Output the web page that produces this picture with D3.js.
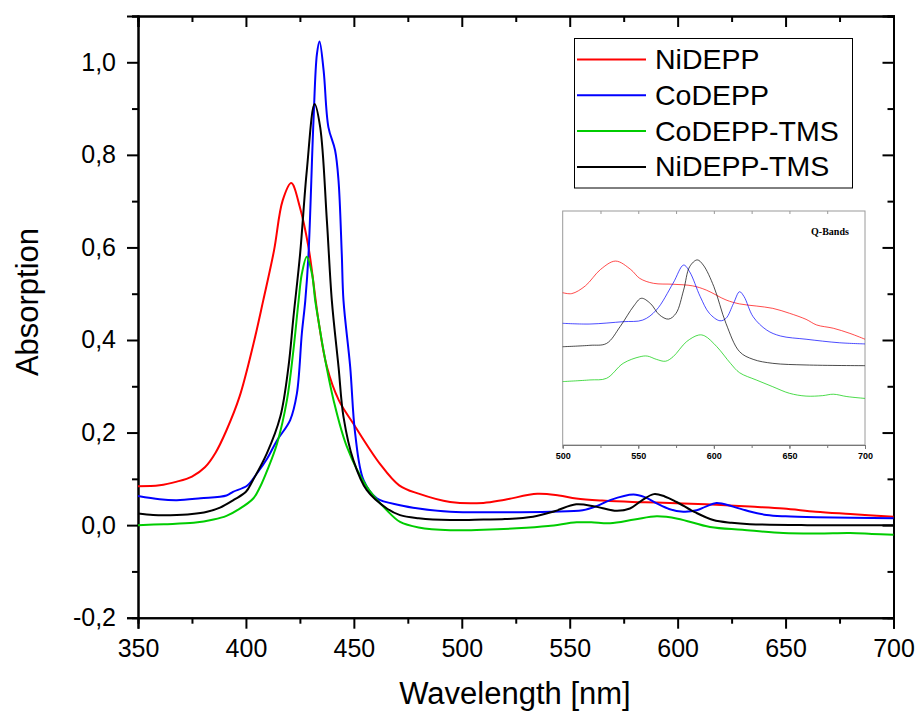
<!DOCTYPE html>
<html>
<head>
<meta charset="utf-8">
<script src="https://cdn.jsdelivr.net/npm/d3@7"></script>
<style>
  body { margin: 0; background: #fff; }
  svg { display: block; font-family: "Liberation Sans", Arial, sans-serif; }
</style>
</head>
<body>
<svg id="chart" width="919" height="711"></svg>
<script>
// series names / colours
const seriesNames = ["NiDEPP", "CoDEPP", "CoDEPP-TMS", "NiDEPP-TMS"];
const seriesColors = ["#ff0000", "#0000ff", "#00cc00", "#000000"];

// main spectra: [wavelength nm, absorption]
const niDEPP = [
  [350, 0.084], [360, 0.086], [368, 0.094], [375, 0.105], [381, 0.125], [386, 0.157],
  [391, 0.205], [397, 0.277], [403.5, 0.392], [408, 0.485], [413, 0.593], [417, 0.701],
  [421, 0.739], [425, 0.687], [429, 0.60], [433.6, 0.442], [437.5, 0.342], [443, 0.27],
  [449.8, 0.219], [462, 0.133], [471, 0.086], [480, 0.068], [494.6, 0.050], [510, 0.048],
  [520, 0.055], [535, 0.0676], [545, 0.064], [553, 0.0575], [565, 0.053], [579, 0.050],
  [590, 0.049], [602.6, 0.047], [618, 0.044], [633.5, 0.040], [649, 0.036], [664, 0.029],
  [680, 0.024], [700, 0.018]
];
const coDEPP = [
  [350, 0.063], [360, 0.056], [368, 0.054], [379, 0.058], [391, 0.064], [394, 0.072],
  [400.5, 0.085], [405, 0.111], [410, 0.145], [414.4, 0.183], [420.5, 0.227], [423.6, 0.284],
  [425.9, 0.414], [427.5, 0.485], [429, 0.586], [431.3, 0.874], [432.9, 1.018], [434.1, 1.045],
  [436, 0.982], [438.2, 0.86], [441.3, 0.81], [442.9, 0.744], [444.4, 0.586], [445.2, 0.485],
  [448.3, 0.342], [450.6, 0.198], [454.5, 0.097], [460.6, 0.058], [471.4, 0.043], [480, 0.036],
  [494.6, 0.029], [520, 0.028], [541, 0.029], [556, 0.032], [563, 0.042], [568.7, 0.054],
  [579.5, 0.066], [585, 0.060], [590.3, 0.047], [596, 0.035], [602.6, 0.029], [608.8, 0.032],
  [613, 0.040], [618, 0.048], [625.7, 0.040], [633, 0.030], [641.2, 0.022], [650, 0.019],
  [664.3, 0.017], [700, 0.015]
];
const coDEPPTMS = [
  [350, 0.0], [362, 0.002], [375.8, 0.005], [385, 0.012], [391, 0.020], [397, 0.035],
  [403.5, 0.058], [406.6, 0.083], [410, 0.12], [414.4, 0.176], [419, 0.27], [422, 0.378],
  [424.4, 0.485], [425.9, 0.543], [428.2, 0.58], [430.6, 0.543], [432.1, 0.485], [433.6, 0.442],
  [435.9, 0.378], [440.6, 0.27], [446.8, 0.169], [456, 0.083], [465.3, 0.032], [471.4, 0.007],
  [480, -0.005], [494.6, -0.011], [510, -0.010], [525.5, -0.007], [540, -0.002], [553.2, 0.006],
  [560, 0.006], [568.7, 0.004], [580, 0.012], [590.3, 0.019], [600, 0.014], [615, -0.004],
  [630, -0.010], [648.9, -0.017], [665, -0.018], [679.8, -0.017], [690, -0.019], [700, -0.021]
];
const niDEPPTMS = [
  [350, 0.025], [357, 0.022], [365, 0.0216], [375, 0.024], [382, 0.029], [388, 0.038],
  [394.5, 0.055], [400, 0.072], [403, 0.095], [409.7, 0.155], [415.9, 0.234], [419.7, 0.342],
  [422, 0.449], [425.1, 0.586], [428.2, 0.766], [431.8, 0.91], [434.4, 0.86], [437.5, 0.658],
  [439.8, 0.485], [442.9, 0.342], [445.2, 0.234], [449.8, 0.140], [456, 0.0755], [465.3, 0.036],
  [471.4, 0.0216], [480, 0.015], [494.6, 0.011], [510, 0.012], [520, 0.013], [533, 0.018],
  [543, 0.030], [553, 0.045], [562, 0.040], [571.7, 0.031], [577.9, 0.036], [583, 0.052],
  [589, 0.067], [594, 0.062], [599.5, 0.050], [608, 0.028], [616.5, 0.011], [625, 0.005],
  [633.5, 0.002], [660, 0.0], [700, 0.0]
];

// inset (Q-bands), arbitrary units 0..1
const qNiDEPP = [
  [500, 0.651], [506, 0.647], [515, 0.68], [525, 0.75], [535, 0.786], [545, 0.75], [551, 0.712],
  [560, 0.691], [573, 0.687], [586, 0.68], [595, 0.662], [608, 0.62], [617, 0.603], [628, 0.594],
  [639, 0.584], [650, 0.563], [661, 0.537], [668, 0.513], [679, 0.499], [690, 0.477], [700, 0.452]
];
const qCoDEPP = [
  [500, 0.52], [518, 0.517], [540, 0.527], [553, 0.534], [562, 0.577], [573, 0.691], [580, 0.769],
  [584, 0.74], [591, 0.634], [597, 0.563], [604, 0.531], [608, 0.541], [613, 0.605], [617, 0.655],
  [620, 0.634], [626, 0.548], [635, 0.491], [644, 0.466], [661, 0.452], [683, 0.437], [700, 0.432]
];
const qCoDEPPTMS = [
  [500, 0.271], [518, 0.278], [529, 0.285], [540, 0.349], [551, 0.377], [556, 0.380], [562, 0.366],
  [568, 0.358], [573, 0.377], [582, 0.442], [590, 0.470], [594, 0.466], [602, 0.420], [611, 0.349],
  [617, 0.309], [628, 0.278], [639, 0.249], [650, 0.221], [661, 0.209], [672, 0.211], [679, 0.217],
  [688, 0.207], [700, 0.199]
];
const qNiDEPPTMS = [
  [500, 0.42], [518, 0.426], [529, 0.434], [538, 0.506], [547, 0.594], [552, 0.627], [558, 0.605],
  [564, 0.556], [570, 0.538], [575, 0.563], [580, 0.662], [584, 0.762], [589, 0.791], [593, 0.769],
  [600, 0.677], [608, 0.520], [617, 0.399], [626, 0.366], [639, 0.349], [661, 0.342], [700, 0.339]
];

const xTicks = [350, 400, 450, 500, 550, 600, 650, 700];
const yTicks = [-0.2, 0, 0.2, 0.4, 0.6, 0.8, 1.0];
const insetTicks = [500, 550, 600, 650, 700];

const mainData = [niDEPP, coDEPP, coDEPPTMS, niDEPPTMS];
const insetData = [qNiDEPP, qCoDEPP, qCoDEPPTMS, qNiDEPPTMS];

const svg = d3.select("#chart");
const plot = {left: 138, top: 16, right: 893.5, bottom: 617.7};

const x = d3.scaleLinear().domain([350, 700]).range([plot.left, plot.right]);
const y = d3.scaleLinear().domain([-0.2, 1.1]).range([plot.bottom, plot.top]);
// decimal comma, plain hyphen for negatives
const comma = d => d3.format(".1f")(d).replace(".", ",").replace("\u2212", "-");

function styleAxis(g, fontSize) {
    g.select(".domain").attr("stroke", "#000").attr("stroke-width", 2);
    g.selectAll(".tick line").attr("stroke", "#000").attr("stroke-width", 2);
    g.selectAll(".tick text").attr("fill", "#000")
        .style("font-size", fontSize + "px")
        .style("font-family", "'Liberation Sans', Arial, sans-serif");
}

// minor ticks
const xMinor = d3.range(375, 700, 50);
const yMinor = d3.range(-0.1, 1.1, 0.2);

// bottom
svg.append("g").attr("transform", `translate(0,${plot.bottom})`)
    .call(d3.axisBottom(x).tickValues(xMinor).tickSize(6).tickFormat(""))
    .call(g => styleAxis(g, 25));
svg.append("g").attr("transform", `translate(0,${plot.bottom})`)
    .call(d3.axisBottom(x).tickValues(xTicks).tickSize(11).tickPadding(11).tickFormat(d3.format("d")))
    .call(g => styleAxis(g, 25));
// top
svg.append("g").attr("transform", `translate(0,${plot.top})`)
    .call(d3.axisTop(x).tickValues(xMinor).tickSize(-6).tickFormat(""))
    .call(g => styleAxis(g, 25));
svg.append("g").attr("transform", `translate(0,${plot.top})`)
    .call(d3.axisTop(x).tickValues(xTicks).tickSize(-11).tickFormat(""))
    .call(g => styleAxis(g, 25));
// left
svg.append("g").attr("transform", `translate(${plot.left},0)`)
    .call(d3.axisLeft(y).tickValues(yMinor).tickSize(6).tickFormat(""))
    .call(g => styleAxis(g, 25));
svg.append("g").attr("transform", `translate(${plot.left},0)`)
    .call(d3.axisLeft(y).tickValues(yTicks).tickSize(11).tickPadding(11).tickFormat(comma))
    .call(g => styleAxis(g, 25));
// right
svg.append("g").attr("transform", `translate(${plot.right},0)`)
    .call(d3.axisRight(y).tickValues(yMinor).tickSize(-6).tickFormat(""))
    .call(g => styleAxis(g, 25));
svg.append("g").attr("transform", `translate(${plot.right},0)`)
    .call(d3.axisRight(y).tickValues(yTicks).tickSize(-11).tickFormat(""))
    .call(g => styleAxis(g, 25));

// axis titles
svg.append("text")
    .attr("transform", "translate(38,302) rotate(-90)")
    .attr("text-anchor", "middle")
    .style("font-size", "31px")
    .text("Absorption");
svg.append("text")
    .attr("x", 515).attr("y", 704)
    .attr("text-anchor", "middle")
    .style("font-size", "31px")
    .text("Wavelength [nm]");

// curves
const line = d3.line().x(d => x(d[0])).y(d => y(d[1])).curve(d3.curveCatmullRom.alpha(0.5));
mainData.forEach((s, i) => {
    svg.append("path")
        .datum(s)
        .attr("fill", "none")
        .attr("stroke", seriesColors[i])
        .attr("stroke-width", 2)
        .attr("stroke-linejoin", "round")
        .attr("d", line);
});

// legend
const legend = svg.append("g");
legend.append("rect")
    .attr("x", 574.5).attr("y", 38.5).attr("width", 278).attr("height", 149.5)
    .attr("fill", "#fff").attr("stroke", "#000").attr("stroke-width", 1);
seriesNames.forEach((name, i) => {
    const ly = 59.5 + i * 35.8;
    legend.append("line")
        .attr("x1", 577).attr("x2", 646).attr("y1", ly).attr("y2", ly)
        .attr("stroke", seriesColors[i]).attr("stroke-width", 2);
    legend.append("text")
        .attr("x", 655).attr("y", ly + 9.5)
        .style("font-size", "28.5px")
        .text(name);
});

// inset
const ix = d3.scaleLinear().domain([500, 700]).range([562.7, 865]);
const iy = d3.scaleLinear().domain([0, 1]).range([445, 211]);
const inset = svg.append("g");
inset.append("rect")
    .attr("x", 562.7).attr("y", 211).attr("width", 865 - 562.7).attr("height", 234)
    .attr("fill", "#fff").attr("stroke", "#9a9a9a").attr("stroke-width", 1);
const iaxis = inset.append("g").attr("transform", "translate(0,445)")
    .call(d3.axisBottom(ix).tickValues(d3.range(500, 701, 25)).tickSize(3).tickFormat(""));
iaxis.select(".domain").attr("stroke", "#777");
iaxis.selectAll(".tick line").attr("stroke", "#777");
const iaxis2 = inset.append("g").attr("transform", "translate(0,445)")
    .call(d3.axisBottom(ix).tickValues(insetTicks).tickSize(4).tickPadding(4).tickFormat(d3.format("d")));
iaxis2.select(".domain").remove();
iaxis2.selectAll(".tick line").attr("stroke", "#777");
iaxis2.selectAll(".tick text")
    .attr("fill", "#000")
    .style("font-size", "9px").style("font-weight", "bold")
    .style("font-family", "'Liberation Sans', Arial, sans-serif");
const itop = inset.append("g").attr("transform", "translate(0,211)")
    .call(d3.axisTop(ix).tickValues(d3.range(525, 700, 25)).tickSize(-3).tickFormat(""));
itop.select(".domain").remove();
itop.selectAll(".tick line").attr("stroke", "#999");

const iline = d3.line().x(d => ix(d[0])).y(d => iy(d[1])).curve(d3.curveCatmullRom.alpha(0.5));
insetData.forEach((s, i) => {
    inset.append("path")
        .datum(s)
        .attr("fill", "none")
        .attr("stroke", seriesColors[i])
        .attr("stroke-opacity", 0.7)
        .attr("stroke-width", 1)
        .attr("d", iline);
});
inset.append("text")
    .attr("x", 830).attr("y", 235)
    .attr("text-anchor", "middle")
    .style("font-family", "'Liberation Serif', 'Times New Roman', serif")
    .style("font-weight", "bold")
    .style("font-size", "10px")
    .text("Q-Bands");
</script>
</body>
</html>
